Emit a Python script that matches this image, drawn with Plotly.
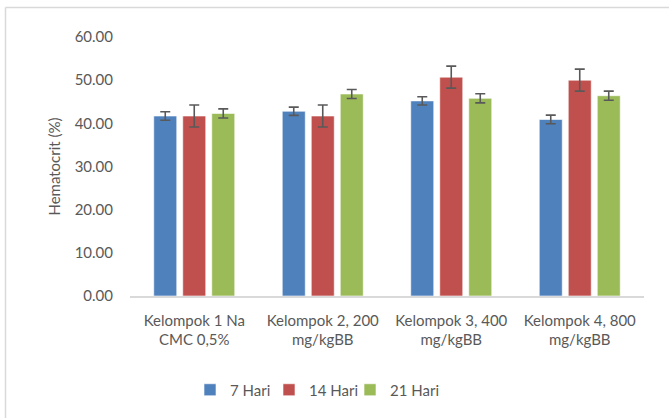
import plotly.graph_objects as go

# ---------------- data ----------------
kelompok = ["Kelompok 1 Na<br>CMC 0,5%", "Kelompok 2, 200<br>mg/kgBB",
            "Kelompok 3, 400<br>mg/kgBB", "Kelompok 4, 800<br>mg/kgBB"]
hari_7 = [41.7, 42.8, 45.2, 40.9]
hari_14 = [41.7, 41.7, 50.7, 50.0]
hari_21 = [42.3, 46.8, 45.8, 46.4]
sd_7 = [1.0, 0.95, 0.95, 1.0]
sd_14 = [2.55, 2.55, 2.55, 2.55]
sd_21 = [1.05, 1.05, 1.05, 1.05]
y_ticks = [0, 10, 20, 30, 40, 50, 60]

W, H = 669, 418
L, R, T, B = 130, 25, 37, 122
FONT = "Lato"
GREY = "#595959"

pw, ph = W - L - R, H - T - B
def px_x(p): return (p - L) / pw
def px_y(p): return (H - B - p) / ph

series = [("7 Hari", hari_7, sd_7, "#4F81BD", "legend", 205),
          ("14 Hari", hari_14, sd_14, "#C0504D", "legend2", 284),
          ("21 Hari", hari_21, sd_21, "#9BBB59", "legend3", 365)]

fig = go.Figure()
legends = {}
for name, vals, sd, col, lg, lx in series:
    fig.add_trace(go.Bar(
        x=kelompok, y=vals, name=name, legend=lg,
        marker=dict(color=col, line=dict(color="rgba(255,255,255,0.6)", width=1)),
        error_y=dict(type="data", array=sd, visible=True, color=GREY, thickness=1.6, width=5),
    ))
    # one small legend per series so the entries sit where the reference has them
    legends[lg] = dict(orientation="h", x=px_x(lx - 15), xanchor="left", y=px_y(390), yanchor="middle",
                       font=dict(size=15, color=GREY), itemwidth=30, bgcolor="rgba(0,0,0,0)")

# chart-area border (top and left edges visible in the crop)
fig.add_shape(type="line", xref="paper", yref="paper",
              x0=px_x(5.5), x1=px_x(W + 5), y0=px_y(7.5), y1=px_y(7.5),
              line=dict(color="#D9D9D9", width=1.5))
fig.add_shape(type="line", xref="paper", yref="paper",
              x0=px_x(5.5), x1=px_x(5.5), y0=px_y(7.5), y1=px_y(H + 5),
              line=dict(color="#D9D9D9", width=1.5))

fig.update_layout(
    width=W, height=H,
    margin=dict(l=L, r=R, t=T, b=B),
    paper_bgcolor="white", plot_bgcolor="white",
    font=dict(family=FONT, size=15, color=GREY),
    barmode="group", bargap=0.323, bargroupgap=0.207,
    showlegend=True,
    **legends,
)
fig.update_xaxes(showline=True, linecolor="#D9D9D9", linewidth=1.5, showgrid=False,
                 ticks="", ticklabelstandoff=10, tickfont=dict(size=15, color=GREY))
fig.update_yaxes(range=[0, 60], tickvals=y_ticks, tickformat=".2f", showgrid=False,
                 zeroline=False, showline=False, ticks="", ticklabelstandoff=16,
                 tickfont=dict(size=15, color=GREY),
                 title=dict(text="Hematocrit (%)", font=dict(size=15, color=GREY), standoff=10))

fig.write_html("out.html", config={"displayModeBar": False},
               post_script="document.body.style.margin='0';")
